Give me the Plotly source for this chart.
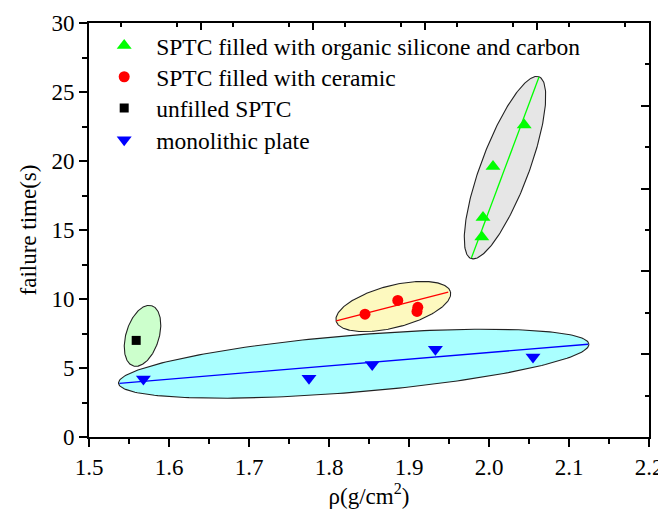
import numpy as np
import plotly.graph_objects as go

# ---- data ----
organic_x = [2.044, 2.005, 1.9925, 1.991]
organic_y = [22.6, 19.6, 15.9, 14.5]
ceramic_x = [1.845, 1.886, 1.911, 1.910]
ceramic_y = [8.9, 9.9, 9.4, 9.1]
unfilled_x = [1.559]
unfilled_y = [7.0]
mono_x = [1.568, 1.775, 1.854, 1.933, 2.055]
mono_y = [4.2, 4.25, 5.25, 6.35, 5.8]

# fitted lines (end points)
organic_fit_x = [1.978, 2.0625]
organic_fit_y = [12.97, 26.08]
ceramic_fit_x = [1.809, 1.949]
ceramic_fit_y = [8.42, 10.5]
mono_fit_x = [1.538, 2.124]
mono_fit_y = [3.89, 6.72]

series_names = ["SPTC filled with organic silicone and carbon",
                "SPTC filled with ceramic",
                "unfilled SPTC",
                "monolithic plate"]

x_range = [1.5, 2.2]
y_range = [0, 30]

# ---- layout geometry (page body has an 8px margin) ----
W, H = 666, 501
ml, mr, mt, mb = 81, 25, 15, 72
pw, ph = W - ml - mr, H - mt - mb
kx = pw / (x_range[1] - x_range[0])
ky = ph / (y_range[1] - y_range[0])

# ellipses: center (data), semi axes (px), angle (deg), fill
ellipses = [
    dict(c=(1.8309, 5.31), a=236, b=28.5, ang=4.76, fill="#aaffff"),
    dict(c=(1.5669, 7.33), a=31.5, b=16.5, ang=73, fill="#ccffcc"),
    dict(c=(1.8804, 9.456), a=59, b=21, ang=14.4, fill="#fdf9bf"),
    dict(c=(2.02, 19.52), a=97, b=24, ang=69.5, fill="#e6e6e6"),
]

font = "Liberation Serif, Times New Roman, serif"
fs = 23
lfs = 23.5
fig = go.Figure()

t = np.linspace(0, 2 * np.pi, 241)
for e in ellipses:
    th = np.deg2rad(e["ang"])
    dxp = e["a"] * np.cos(t) * np.cos(th) - e["b"] * np.sin(t) * np.sin(th)
    dyp = e["a"] * np.cos(t) * np.sin(th) + e["b"] * np.sin(t) * np.cos(th)
    fig.add_trace(go.Scatter(
        x=e["c"][0] + dxp / kx, y=e["c"][1] + dyp / ky,
        mode="lines", fill="toself", fillcolor=e["fill"],
        line=dict(color="#222222", width=1.1),
        showlegend=False, hoverinfo="skip"))

for fx, fy, col in [(mono_fit_x, mono_fit_y, "#0000ff"),
                    (ceramic_fit_x, ceramic_fit_y, "#ff0000"),
                    (organic_fit_x, organic_fit_y, "#00ff00")]:
    fig.add_trace(go.Scatter(x=fx, y=fy, mode="lines",
                             line=dict(color=col, width=1.3),
                             showlegend=False, hoverinfo="skip"))

fig.add_trace(go.Scatter(x=organic_x, y=organic_y, mode="markers",
                         name=series_names[0], legend="legend",
                         marker=dict(symbol="triangle-up", size=13, color="#00ff00")))
fig.add_trace(go.Scatter(x=ceramic_x, y=ceramic_y, mode="markers",
                         name=series_names[1], legend="legend2",
                         marker=dict(symbol="circle", size=11, color="#ff0000")))
fig.add_trace(go.Scatter(x=unfilled_x, y=unfilled_y, mode="markers",
                         name=series_names[2], legend="legend3",
                         marker=dict(symbol="square", size=9, color="#000000")))
fig.add_trace(go.Scatter(x=mono_x, y=mono_y, mode="markers",
                         name=series_names[3], legend="legend4",
                         marker=dict(symbol="triangle-down", size=13, color="#0000ff")))

# invisible trace to activate the mirrored top/right axes
fig.add_trace(go.Scatter(x=[x_range[0]], y=[y_range[0]], xaxis="x2", yaxis="y2",
                         mode="markers", marker=dict(opacity=0),
                         showlegend=False, hoverinfo="skip"))

legend_x = 0.0057
legend_rows = [0.945, 0.8696, 0.794, 0.7174]


def leg(yv):
    return dict(x=legend_x, y=yv, xanchor="left", yanchor="middle",
                bgcolor="rgba(0,0,0,0)", font=dict(family=font, size=lfs),
                itemwidth=54)


fig.update_layout(
    width=W, height=H,
    margin=dict(l=ml, r=mr, t=mt, b=mb, autoexpand=False),
    paper_bgcolor="white", plot_bgcolor="white",
    font=dict(family=font, size=fs, color="black"),
    showlegend=True,
    legend=leg(legend_rows[0]),
    legend2=leg(legend_rows[1]),
    legend3=leg(legend_rows[2]),
    legend4=leg(legend_rows[3]),
    xaxis=dict(range=x_range, dtick=0.1, tickformat=".1f", automargin=False,
               showgrid=False, zeroline=False,
               showline=True, linecolor="black", linewidth=2, mirror=True,
               ticks="outside", ticklen=8, tickwidth=2, tickcolor="black",
               minor=dict(dtick=0.05, ticks="outside", ticklen=5, tickwidth=2, tickcolor="black"),
               title=dict(text="ρ(g/cm<sup>2</sup>)", standoff=10,
                          font=dict(family=font, size=fs)),
               tickfont=dict(family=font, size=fs)),
    yaxis=dict(range=y_range, dtick=5, automargin=False,
               showgrid=False, zeroline=False,
               showline=True, linecolor="black", linewidth=2, mirror=True,
               ticks="outside", ticklen=8, tickwidth=2, tickcolor="black",
               minor=dict(dtick=2.5, ticks="outside", ticklen=5, tickwidth=2, tickcolor="black"),
               title=dict(text="failure time(s)", standoff=8,
                          font=dict(family=font, size=fs)),
               tickfont=dict(family=font, size=fs)),
    xaxis2=dict(range=x_range, overlaying="x", side="top", anchor="y", automargin=False,
                showticklabels=False, showgrid=False, zeroline=False, showline=False,
                tick0=1.5, dtick=0.14, ticks="inside", ticklen=7, tickwidth=2, tickcolor="black",
                minor=dict(dtick=0.07, ticks="inside", ticklen=4, tickwidth=2, tickcolor="black")),
    yaxis2=dict(range=y_range, overlaying="y", side="right", anchor="x", automargin=False,
                showticklabels=False, showgrid=False, zeroline=False, showline=False,
                tick0=0, dtick=6, ticks="inside", ticklen=8, tickwidth=2, tickcolor="black",
                minor=dict(dtick=3, ticks="inside", ticklen=4, tickwidth=2, tickcolor="black")),
)

fig.write_html("out.html")
